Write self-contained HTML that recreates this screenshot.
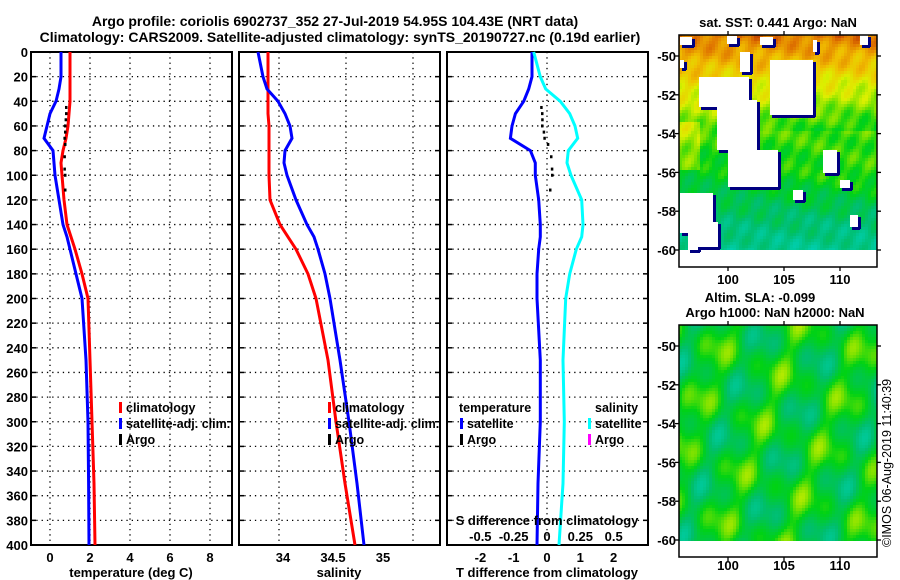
<!DOCTYPE html>
<html><head><meta charset="utf-8"><style>
html,body{margin:0;padding:0;background:#fff;}
svg{display:block;font-family:"Liberation Sans",sans-serif;font-weight:bold;}
</style></head><body>
<svg id="root" width="900" height="580" viewBox="0 0 900 580" xmlns="http://www.w3.org/2000/svg">
<g font-size="14" text-anchor="middle">
<text x="335" y="26">Argo profile: coriolis 6902737_352 27-Jul-2019 54.95S 104.43E (NRT data)</text>
<text x="340" y="42">Climatology: CARS2009. Satellite-adjusted climatology: synTS_20190727.nc (0.19d earlier)</text>
</g>
<g id="plots"></g>
<g id="maps"></g>
</svg>
<script>
// ---- data ----
const depths   = [0, 20, 30, 40, 50, 60, 70, 80, 90, 100, 120, 140, 150, 160, 180, 200, 250, 300, 350, 400];
const tempClim = [1.0, 1.0, 1.0, 1.0, 0.95, 0.9, 0.8, 0.65, 0.55, 0.6, 0.7, 0.85, 1.05, 1.25, 1.6, 1.9, 2.0, 2.1, 2.2, 2.25];
const tempSat  = [0.55, 0.55, 0.45, 0.3, 0.0, -0.15, -0.3, 0.15, 0.2, 0.25, 0.45, 0.65, 0.85, 1.0, 1.3, 1.6, 1.8, 1.9, 1.93, 1.95];
const salClim  = [33.85, 33.85, 33.85, 33.85, 33.85, 33.86, 33.86, 33.86, 33.86, 33.86, 33.87, 33.97, 34.05, 34.13, 34.25, 34.33, 34.45, 34.53, 34.62, 34.72];
const salSat   = [33.75, 33.80, 33.84, 33.95, 34.02, 34.07, 34.09, 34.02, 34.01, 34.04, 34.13, 34.24, 34.31, 34.35, 34.42, 34.47, 34.57, 34.66, 34.74, 34.81];
const argoDepths = [45, 50, 55, 60, 65, 70, 75, 85, 95, 100, 112];
const argoTemp   = [0.8, 0.8, 0.78, 0.75, 0.75, 0.72, 0.75, 0.72, 0.72, 0.75, 0.75];
const depthTicks = [0,20,40,60,80,100,120,140,160,180,200,220,240,260,280,300,320,340,360,380,400];
const tempTicks = [0,2,4,6,8];
const salTicks = [34, 34.5, 35];
const salTickLabels = ["34","34.5","35"];
const tdTicks = [-2,-1,0,1,2];
const sdTicks = [-0.5,-0.25,0,0.25,0.5];
const sdTickLabels = ["-0.5","-0.25","0","0.25","0.5"];

const NS="http://www.w3.org/2000/svg";
function mk(tag, attrs, parent){const e=document.createElementNS(NS,tag);for(const k in attrs)e.setAttribute(k,attrs[k]);parent.appendChild(e);return e;}
const plots=document.getElementById('plots');
const Y0=52, Y1=545;
const yD = d => Y0 + d*(Y1-Y0)/400;
const xT = t => 50 + t*20;
const xS = s => 283 + (s-34)*100;
const xTD = t => 547 + t*33.3;
const xSD = s => 547 + s*133.3;
function interp(xs, ys, x){for(let i=1;i<xs.length;i++){if(x<=xs[i]){const f=(x-xs[i-1])/(xs[i]-xs[i-1]);return ys[i-1]+(ys[i]-ys[i-1])*f;}}return ys[ys.length-1];}

function panel(name, x0, x1, gridXs){
  const g=mk('g',{},plots);
  
  
  depthTicks.forEach(d=>{ if(d>0&&d<400) mk('line',{x1:x0,x2:x1,y1:yD(d),y2:yD(d),stroke:'#000','stroke-width':1.3,'stroke-dasharray':'1.3,4'},g);
    mk('line',{x1:x0,x2:x0+5,y1:yD(d),y2:yD(d),stroke:'#000','stroke-width':1.5},g);
    mk('line',{x1:x1-5,x2:x1,y1:yD(d),y2:yD(d),stroke:'#000','stroke-width':1.5},g);});
  gridXs.forEach(x=>mk('line',{x1:x,x2:x,y1:Y0,y2:Y1,stroke:'#000','stroke-width':1.3,'stroke-dasharray':'1.3,4'},g));
  mk('rect',{x:x0,y:Y0,width:x1-x0,height:Y1-Y0,fill:'none',stroke:'#000','stroke-width':2},g);
  return g;
}
function line(g, xs, ys, color, name, w){
  const p=mk('polyline',{points:xs.map((x,i)=>x.toFixed(1)+','+ys[i].toFixed(1)).join(' '),fill:'none',stroke:color,'stroke-width':w||3},g);
  
  
}
function txt(g, x, y, s, name, anchor, size){
  const t=mk('text',{x:x,y:y,'font-size':size||13,'text-anchor':anchor||'middle'},g);
  t.textContent=s;
  
  
  return t;
}
function legend(g, x, y, color, label){
  mk('rect',{x:x,y:y-10,width:3,height:11,fill:color},g);
  txt(g, x+7, y, label, 'legend-entry', 'start', 12.5);
}

const dl=mk('g',{},plots);


depthTicks.forEach(d=>txt(dl, 28, yD(d)+5, String(d), 'depth-tick-label', 'end', 13));

// Panel 1 temperature
const p1=panel('temperature-panel',31,232,tempTicks.map(xT));
line(p1, tempClim.map(xT), depths.map(yD), '#ff0000', 'temperature-climatology-line');
line(p1, tempSat.map(xT), depths.map(yD), '#0000ff', 'temperature-satellite-line');
argoDepths.forEach((d,i)=>{const r=mk('rect',{x:xT(argoTemp[i])-1,y:yD(d)-1.5,width:2.5,height:3,fill:'#000'},p1);
  
  });
tempTicks.forEach(t=>txt(p1, xT(t), 562, String(t), 'temperature-tick-label'));
txt(p1, 131, 577, 'temperature (deg C)', 'x-axis-title');
legend(p1, 119, 412, '#ff0000', 'climatology');
legend(p1, 119, 428, '#0000ff', 'satellite-adj. clim.');
legend(p1, 119, 444, '#000000', 'Argo');

// Panel 2 salinity
const p2=panel('salinity-panel',239,440,[279,346,413]);
line(p2, salClim.map(xS), depths.map(yD), '#ff0000', 'salinity-climatology-line');
line(p2, salSat.map(xS), depths.map(yD), '#0000ff', 'salinity-satellite-line');
salTicks.forEach((s,i)=>txt(p2, xS(s), 562, salTickLabels[i], 'salinity-tick-label'));
txt(p2, 339, 577, 'salinity', 'x-axis-title');
legend(p2, 328, 412, '#ff0000', 'climatology');
legend(p2, 328, 428, '#0000ff', 'satellite-adj. clim.');
legend(p2, 328, 444, '#000000', 'Argo');

// Panel 3 differences
const p3=panel('difference-panel',447,648,[xTD(0)]);
line(p3, tempSat.map((v,i)=>xTD(v-tempClim[i])), depths.map(yD), '#0000ff', 'temperature-difference-line');
line(p3, salSat.map((v,i)=>xSD(v-salClim[i])), depths.map(yD), '#00ffff', 'salinity-difference-line');
argoDepths.forEach((d,i)=>{const r=mk('rect',{x:xTD(argoTemp[i]-interp(depths,tempClim,d))-1,y:yD(d)-1.5,width:2.5,height:3,fill:'#000'},p3);
  
  });
tdTicks.forEach(t=>txt(p3, xTD(t), 562, String(t), 'td-tick-label'));
txt(p3, 547, 577, 'T difference from climatology', 'x-axis-title');
sdTicks.forEach((s,i)=>txt(p3, xSD(s), 541, sdTickLabels[i], 'sd-tick-label'));
txt(p3, 547, 525, 'S difference from climatology', 'sd-axis-title');
txt(p3, 459, 412, 'temperature', 'legend-title', 'start', 12.5);
legend(p3, 460, 428, '#0000ff', 'satellite');
legend(p3, 460, 444, '#000000', 'Argo');
txt(p3, 595, 412, 'salinity', 'legend-title', 'start', 12.5);
legend(p3, 588, 428, '#00ffff', 'satellite');
legend(p3, 588, 444, '#ff00ff', 'Argo');

// ---- maps ----
const maps=document.getElementById('maps');
function cmap(v){
  const stops=[[0,[0,220,230]],[0.25,[0,190,110]],[0.4,[0,210,20]],[0.5,[120,225,0]],[0.6,[220,240,0]],[0.72,[240,190,0]],[0.85,[225,120,0]],[1,[160,0,0]]];
  v=Math.max(0,Math.min(1,v));
  for(let i=1;i<stops.length;i++){ if(v<=stops[i][0]){const a=stops[i-1],b=stops[i],f=(v-a[0])/(b[0]-a[0]);
    return 'rgb('+a[1].map((c,k)=>Math.round(c+(b[1][k]-c)*f)).join(',')+')';}}
  return 'rgb(160,0,0)';
}
function drawMap(g, x0,y0,x1,y1b, fn, holes){
  const cs=3;
  for(let y=y0;y<y1b;y+=cs){for(let x=x0;x<x1;x+=cs){
    mk('rect',{x:x,y:y,width:Math.min(cs,x1-x),height:Math.min(cs,y1b-y),fill:cmap(fn(x,y))},g);
  }}
  holes.forEach(h=>{
    mk('rect',{x:h[0]+h[2],y:h[1]+2,width:3,height:h[3],fill:'#000080'},g);
    mk('rect',{x:h[0]+2,y:h[1]+h[3],width:h[2],height:3,fill:'#000080'},g);
  });
  holes.forEach(h=>mk('rect',{x:h[0],y:h[1],width:h[2],height:h[3],fill:'#fff'},g));
}
function mapAxes(g, x0,y0,x1,y1, y50, y60, lonY){
  mk('rect',{x:x0,y:y0,width:x1-x0,height:y1-y0,fill:'none',stroke:'#000','stroke-width':1.5},g);
  const lats=[-50,-52,-54,-56,-58,-60];
  lats.forEach((l,i)=>{const y=y50+(y60-y50)*i/5;
    mk('line',{x1:x0-4,x2:x0,y1:y,y2:y,stroke:'#000','stroke-width':1.3},g);
    mk('line',{x1:x1,x2:x1+4,y1:y,y2:y,stroke:'#000','stroke-width':1.3},g);
    txt(g, x0-3, y+5, String(l), 'latitude-tick-label', 'end', 13);});
  [[100,728],[105,784],[110,840]].forEach(p=>{
    mk('line',{x1:p[1],x2:p[1],y1:y1,y2:y1+4,stroke:'#000','stroke-width':1.3},g);
    mk('line',{x1:p[1],x2:p[1],y1:y0-4,y2:y0,stroke:'#000','stroke-width':1.3},g);
    txt(g, p[1], lonY, String(p[0]), 'longitude-tick-label');});
}
// top SST map
const m1=mk('g',{},maps);


txt(m1, 778, 27, 'sat. SST: 0.441 Argo: NaN', 'map-title');
const sstHoles=[[699,77,50,30],[717,100,40,50],[728,150,50,37],[770,60,43,55],[740,150,30,35],[680,193,33,40],[693,222,25,25],[793,190,10,10],[823,150,14,23],[840,180,10,8],[680,37,12,8],[727,36,10,8],[760,37,13,8],[813,40,4,12],[860,35,8,10],[703,200,10,10],[740,52,10,20],[680,60,4,8],[800,78,10,12],[850,215,8,12],[688,228,10,22]];
drawMap(m1,679,35,877,250,(x,y)=>{
  const fx=(x-679)/198;
  let v = y<130 ? 0.84-(y-35)/95*0.36 - 0.1*fx*(y-35)/95 : 0.46-(y-130)/120*0.28 + 0.08*Math.max(0,1-Math.abs(y-175)/40)*fx;
  if(x<700 && y>120 && y<170) v+=0.1;
  return v+0.04*Math.sin(x*0.31+y*0.17)+0.03*Math.sin(x*0.07-y*0.21);
},sstHoles);
mapAxes(m1,679,35,877,267,56,250,284);
// bottom SLA map
const m2=mk('g',{},maps);


txt(m2, 760, 302, 'Altim. SLA: -0.099', 'map-title');
txt(m2, 775, 317, 'Argo h1000: NaN h2000: NaN', 'map-title');
drawMap(m2,679,325,877,541,(x,y)=>{return 0.36+0.08*Math.sin(x*0.09+y*0.035)+0.07*Math.sin(x*0.045-y*0.11+1.3)+0.05*Math.sin(x*0.21+y*0.07);},[]);
mapAxes(m2,679,325,877,557,346,540,570);
const cp=txt(m2, 0, 0, '©IMOS 06-Aug-2019 11:40:39', 'copyright-label', 'start', 12.5);
cp.setAttribute('font-weight','normal');
cp.setAttribute('transform','translate(891,547) rotate(-90)');
</script>
</body></html>
